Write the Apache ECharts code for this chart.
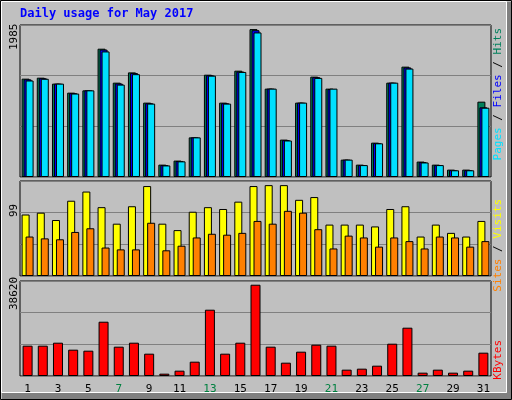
<!DOCTYPE html>
<html>
<head>
<meta charset="utf-8">
<script src="https://cdn.jsdelivr.net/npm/echarts@6/dist/echarts.min.js"></script>
<style>
html, body {margin: 0; padding: 0; background: #c0c0c0;}
#chart {width: 512px; height: 400px;}
</style>
</head>
<body>
<div id="chart"></div>
<script>
const days = ['1','2','3','4','5','6','7','8','9','10','11','12','13','14','15','16','17','18','19','20','21','22','23','24','25','26','27','28','29','30','31'];
const weekends = ['6','7','13','14','20','21','27','28'];
const hits = [1320,1333,1253,1132,1163,1722,1266,1404,998,166,220,532,1373,998,1427,1985,1186,502,998,1347,1186,233,166,461,1266,1481,207,166,99,99,1011];
const files = [1310,1325,1253,1125,1163,1710,1255,1395,990,160,215,532,1365,990,1415,1970,1186,495,998,1340,1180,233,160,455,1266,1470,200,160,92,92,935];
const pages = [1295,1318,1253,1120,1163,1685,1240,1380,985,155,210,532,1360,985,1410,1940,1186,490,998,1330,1186,233,160,452,1266,1455,195,160,90,90,930];
const visits = [67,69,61,82,92,75,57,76,98,57,50,70,75,73,81,98,99,99,83,86,56,56,56,54,73,76,43,56,47,43,60];
const sites = [43,41,40,48,52,31,29,29,58,28,33,42,46,45,47,60,57,71,69,51,30,44,42,32,42,38,30,43,42,32,38];
const kbytes = [12827,12827,14095,11135,10712,22975,12404,14095,9444,987,2255,6061,28049,9444,14095,38620,12404,5638,10289,13249,12827,2678,3101,4369,13672,20438,1410,2678,1410,2255,9867];

const chart = echarts.init(document.getElementById('chart'));
const border = {borderColor: '#000', borderWidth: 1};
const grids = [
    {left: 20, right: 21, top: 25, height: 152},
    {left: 20, right: 21, top: 181, height: 95},
    {left: 20, right: 21, top: 281, height: 95}
];
const maxes = [2040, 103.5, 40200];
const mono = 'DejaVu Sans Mono';

const option = {
    animation: false,
    backgroundColor: '#c0c0c0',
    grid: grids.map(g => Object.assign({show: true, backgroundColor: '#c0c0c0', borderColor: '#000', borderWidth: 1}, g)),
    xAxis: grids.map((g, i) => ({
        type: 'category', gridIndex: i, data: days,
        axisLine: {show: false}, axisTick: {show: false},
        axisLabel: i === 2 ? {
            show: true, fontFamily: mono, fontSize: 11, margin: 8,
            color: v => weekends.includes(v) ? '#008040' : '#000'
        } : {show: false}
    })),
    yAxis: maxes.map((m, i) => ({
        type: 'value', gridIndex: i, min: 0, max: m, interval: m / 3,
        axisLabel: {show: false}, axisLine: {show: false}, axisTick: {show: false},
        splitLine: {show: true, lineStyle: {color: '#808080', width: 1}}
    })),
    series: [
        {type: 'bar', xAxisIndex: 0, yAxisIndex: 0, data: hits, barWidth: 8, barGap: '-75%', itemStyle: Object.assign({color: '#00805c'}, border)},
        {type: 'bar', xAxisIndex: 0, yAxisIndex: 0, data: files, barWidth: 8, barGap: '-75%', itemStyle: Object.assign({color: '#0000ff'}, border)},
        {type: 'bar', xAxisIndex: 0, yAxisIndex: 0, data: pages, barWidth: 8, barGap: '-75%', itemStyle: Object.assign({color: '#00e0ff'}, border)},
        {type: 'bar', xAxisIndex: 1, yAxisIndex: 1, data: visits, barWidth: 8, barGap: '-50%', itemStyle: Object.assign({color: '#ffff00'}, border)},
        {type: 'bar', xAxisIndex: 1, yAxisIndex: 1, data: sites, barWidth: 8, barGap: '-50%', itemStyle: Object.assign({color: '#ff8000'}, border)},
        {type: 'bar', xAxisIndex: 2, yAxisIndex: 2, data: kbytes, barWidth: 10, itemStyle: Object.assign({color: '#ff0000'}, border)}
    ],
    graphic: [
        {type: 'rect', shape: {x: 0.5, y: 0.5, width: 511, height: 399}, style: {fill: 'none', stroke: '#000', lineWidth: 1}},
        {type: 'rect', shape: {x: 1.5, y: 1.5, width: 505, height: 391}, style: {fill: 'none', stroke: '#fff', lineWidth: 1}},
        {type: 'rect', shape: {x: 2, y: 393, width: 509, height: 6}, style: {fill: '#808080'}},
        {type: 'rect', shape: {x: 507, y: 2, width: 4, height: 397}, style: {fill: '#808080'}},
        {type: 'text', left: 20, top: 8, style: {text: 'Daily usage for May 2017', fill: '#0000ff', font: 'bold 12px ' + mono}},
        {type: 'text', x: 9, y: 50, rotation: Math.PI / 2, style: {text: '1985', fill: '#000', font: '11px ' + mono, align: 'left', verticalAlign: 'top'}},
        {type: 'text', x: 9, y: 217, rotation: Math.PI / 2, style: {text: '99', fill: '#000', font: '11px ' + mono, align: 'left', verticalAlign: 'top'}},
        {type: 'text', x: 9, y: 310, rotation: Math.PI / 2, style: {text: '38620', fill: '#000', font: '11px ' + mono, align: 'left', verticalAlign: 'top'}},
        {type: 'text', x: 493, y: 28, rotation: Math.PI / 2, style: {
            text: '{p|Pages}{s| / }{f|Files}{s| / }{h|Hits}', align: 'right', verticalAlign: 'top',
            rich: {p: {fill: '#00e0ff'}, f: {fill: '#0000ff'}, h: {fill: '#00805c'}, s: {fill: '#000'}},
            font: '11px ' + mono, fill: '#000'}},
        {type: 'text', x: 493, y: 199, rotation: Math.PI / 2, style: {
            text: '{a|Sites}{s| / }{b|Visits}', align: 'right', verticalAlign: 'top',
            rich: {a: {fill: '#ff8000'}, b: {fill: '#ffff00'}, s: {fill: '#000'}},
            font: '11px ' + mono}},
        {type: 'text', x: 493, y: 340, rotation: Math.PI / 2, style: {text: 'KBytes', fill: '#ff0000', font: '11px ' + mono, align: 'right', verticalAlign: 'top'}}
    ]
};
chart.setOption(option);
</script>
</body>
</html>
